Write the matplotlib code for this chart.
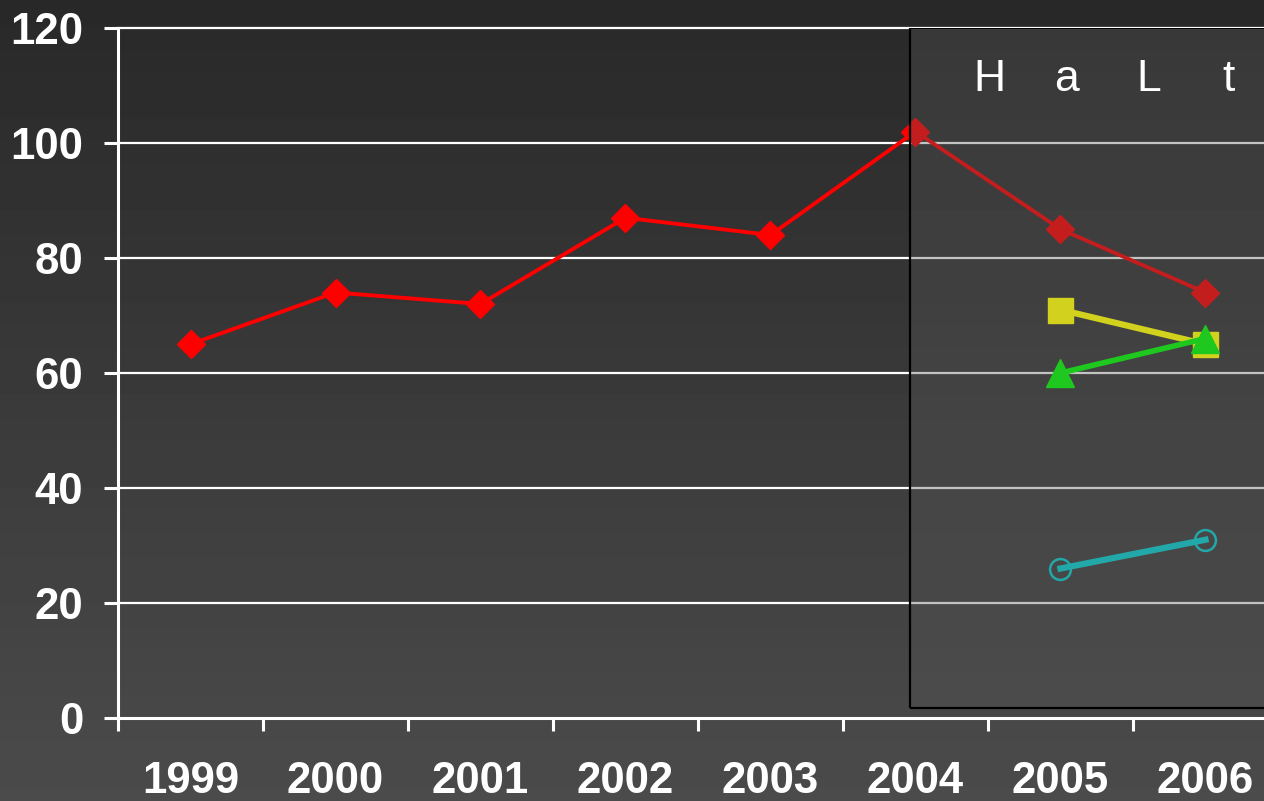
import numpy as np
import matplotlib
matplotlib.use('Agg')
from matplotlib import pyplot as plt
from matplotlib.patches import Rectangle

years = ['1999', '2000', '2001', '2002', '2003', '2004', '2005', '2006']
red_vals = [65, 74, 72, 87, 84, 102, 85, 74]
yellow_vals = [71, 65]
green_vals = [60, 66]
cyan_vals = [26, 31]
late_years = ['2005', '2006']
box_letters = ['H', 'a', 'L', 't']
letter_x = [5.51, 6.04, 6.61, 7.16]
yticks = [0, 20, 40, 60, 80, 100, 120]


def main():
	plt.rcParams['font.family'] = ['Liberation Sans', 'DejaVu Sans']
	fig = plt.figure(figsize=(12.64, 8.01), dpi=100)

	# gradient background
	bg = fig.add_axes([0, 0, 1, 1], zorder=-1)
	grad = np.linspace(0.16, 0.295, 256).reshape(-1, 1)
	bg.imshow(grad, aspect='auto', cmap='gray', vmin=0, vmax=1,
			extent=[0, 1, 1, 0])
	bg.axis('off')

	ax = fig.add_axes([118/1264, 83/801, 1 - 118/1264, 690/801])
	ax.set_facecolor('none')
	x = np.arange(len(years))
	xl = np.array([years.index(y) for y in late_years])

	for v in yticks[1:]:
		ax.axhline(v, color='white', lw=1.6, zorder=1, clip_on=False)

	ax.plot(x, red_vals, color='#ff0000', lw=2.8, marker='D', ms=14,
			zorder=2)

	bx = (910 - 118) / 145.0 - 0.5
	box = Rectangle((bx, 1.74), 5, 118.26, facecolor='#555555',
			alpha=0.35, edgecolor='none', zorder=3)
	ax.add_patch(box)
	edge = Rectangle((bx, 1.74), 5, 118.26, facecolor='none',
			edgecolor='black', lw=1.6, zorder=3)
	ax.add_patch(edge)
	for ch, lx in zip(box_letters, letter_x):
		ax.text(lx, 111, ch, color='white', fontsize=32, ha='center',
				va='center', zorder=5)

	ax.plot(xl, yellow_vals, color='#d2d21e', lw=4.5, marker='s', ms=18,
			zorder=4)
	ax.plot(xl, green_vals, color='#1ec81e', lw=4, marker='^', ms=20,
			zorder=4)
	ax.plot(xl, cyan_vals, color='#22a8a8', lw=4.5, marker='o', ms=15,
			mfc='none', mec='#22a8a8', mew=1.8, zorder=4)

	for s in ['top', 'right']:
		ax.spines[s].set_visible(False)
	for s in ['left', 'bottom']:
		ax.spines[s].set_color('white')
		ax.spines[s].set_linewidth(2.2)
		ax.spines[s].set_zorder(6)

	ax.set_yticks(yticks)
	ax.set_yticklabels([str(v) for v in yticks])
	ax.tick_params(axis='y', colors='white', length=10, width=2.2, pad=15,
			labelsize=31.5)
	ax.set_xticks(x)
	ax.set_xticklabels(years)
	ax.set_xticks(np.arange(-0.5, 7.4, 1), minor=True)
	ax.tick_params(axis='x', which='major', length=0, pad=31,
			colors='white', labelsize=31.5)
	ax.tick_params(axis='x', which='minor', length=9, width=2.2,
			color='white')
	for lab in ax.get_xticklabels() + ax.get_yticklabels():
		lab.set_fontweight('bold')

	ax.set_xlim(-0.5, -0.5 + (1264 - 118) / 145.0)
	ax.set_ylim(0, 120)

	fig.savefig('out.png', dpi=100)


if __name__ == "__main__":
	main()
